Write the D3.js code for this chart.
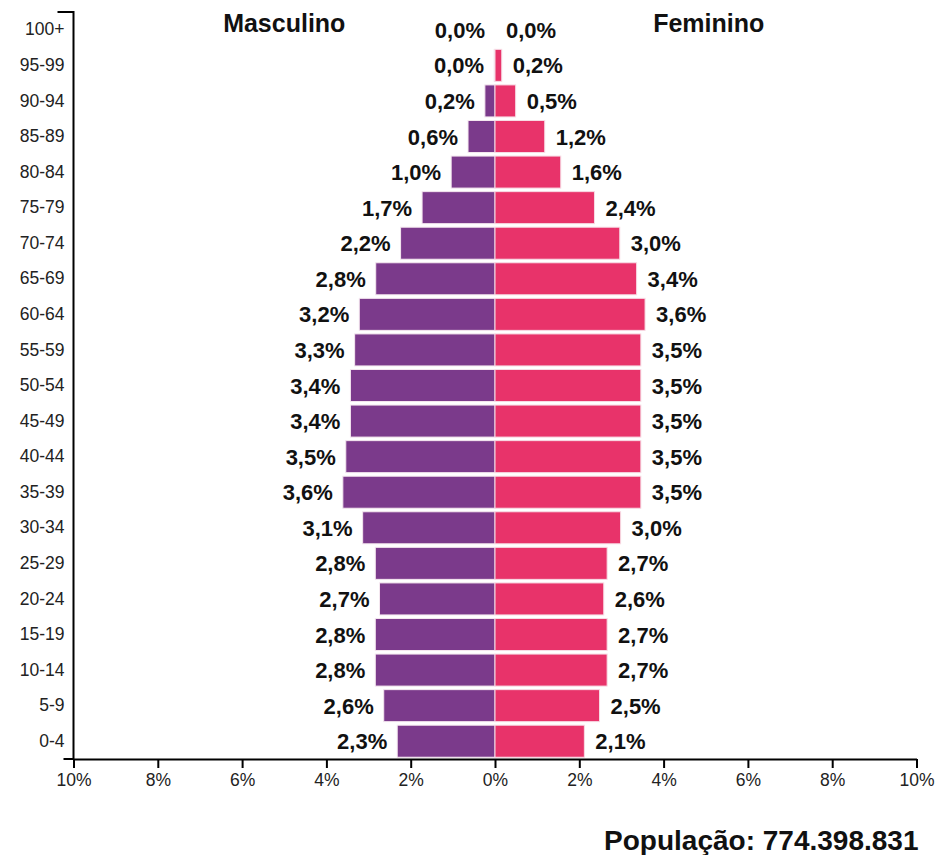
<!DOCTYPE html>
<html>
<head>
<meta charset="utf-8">
<script src="https://cdn.jsdelivr.net/npm/d3@7"></script>
<style>
  html, body { margin: 0; padding: 0; background: #fff; }
  svg { display: block; font-family: "Liberation Sans", Arial, Helvetica, sans-serif; }
</style>
</head>
<body>
<svg id="chart" width="944" height="855"></svg>
<script>
const ageGroups = ["100+","95-99","90-94","85-89","80-84","75-79","70-74","65-69","60-64","55-59","50-54","45-49","40-44","35-39","30-34","25-29","20-24","15-19","10-14","5-9","0-4"];
const maleValues   = [0.00,0.02,0.24,0.64,1.04,1.73,2.24,2.83,3.22,3.33,3.43,3.43,3.54,3.61,3.14,2.84,2.74,2.84,2.84,2.64,2.32];
const femaleValues = [0.00,0.16,0.49,1.18,1.56,2.36,2.96,3.36,3.56,3.46,3.46,3.46,3.46,3.46,2.98,2.66,2.58,2.66,2.66,2.48,2.12];
const xTicks = [-10,-8,-6,-4,-2,0,2,4,6,8,10];
const sideTitles = ["Masculino","Feminino"];
const populationText = "População: 774.398.831";

const svg = d3.select("#chart");
const x = d3.scaleLinear().domain([-10, 10]).range([73.5, 916.5]);
const y = d3.scaleBand().domain(ageGroups).range([12, 759]).paddingInner(0.1).paddingOuter(0.05);

const fmt = v => d3.format(".1f")(v).replace(".", ",") + "%";
const rows = ageGroups.map((g, i) => ({ g, m: maleValues[i], f: femaleValues[i] }));

// Bars
const bars = svg.append("g");
bars.selectAll("rect.m").data(rows).join("rect")
  .attr("x", d => x(-d.m)).attr("y", d => y(d.g))
  .attr("width", d => x(0) - x(-d.m)).attr("height", y.bandwidth())
  .attr("fill", "#7b3a8b").attr("stroke", "#f4e6ef").attr("stroke-width", 1)
  .attr("stroke-opacity", d => d.m > 0 ? 1 : 0);
bars.selectAll("rect.f").data(rows).join("rect")
  .attr("x", x(0)).attr("y", d => y(d.g))
  .attr("width", d => x(d.f) - x(0)).attr("height", y.bandwidth())
  .attr("fill", "#e8336a").attr("stroke", "#f7dbe4").attr("stroke-width", 1)
  .attr("stroke-opacity", d => d.f > 0 ? 1 : 0);

// Value labels
const lab = svg.append("g").attr("font-weight", "bold").attr("font-size", 22).attr("fill", "#111");
lab.selectAll("text.m").data(rows).join("text")
  .attr("x", d => x(-d.m) - 10).attr("y", d => y(d.g) + y.bandwidth() / 2 + 8)
  .attr("text-anchor", "end").text(d => fmt(d.m));
lab.selectAll("text.f").data(rows).join("text")
  .attr("x", d => x(d.f) + 11).attr("y", d => y(d.g) + y.bandwidth() / 2 + 8)
  .attr("text-anchor", "start").text(d => fmt(d.f));

// Y axis
const yAxis = svg.append("g").attr("transform", `translate(${x(-10)},0)`)
  .call(d3.axisLeft(y).tickSize(0).tickPadding(9));
yAxis.select(".domain")
  .attr("d", `M-16,${y.range()[0]}H0V${y.range()[1]}H-10`)
  .attr("stroke", "#000").attr("stroke-width", 2).attr("fill", "none");
yAxis.selectAll("text").attr("font-size", 17.5).attr("fill", "#222").attr("font-family", null);

// X axis
const xAxis = svg.append("g").attr("transform", `translate(0,${y.range()[1]})`)
  .call(d3.axisBottom(x).tickValues(xTicks).tickSize(9).tickSizeOuter(0).tickPadding(6)
    .tickFormat(d => Math.abs(d) + "%"));
xAxis.select(".domain").attr("stroke", "#000").attr("stroke-width", 2);
xAxis.selectAll("line").attr("stroke", "#000").attr("stroke-width", 2);
xAxis.selectAll("text").attr("font-size", 17.5).attr("fill", "#222").attr("font-family", null);

// Titles
svg.append("text").attr("x", x(-5.0)).attr("y", 32).attr("text-anchor", "middle")
  .attr("font-weight", "bold").attr("font-size", 25).attr("fill", "#111").text(sideTitles[0]);
svg.append("text").attr("x", x(5.07)).attr("y", 32).attr("text-anchor", "middle")
  .attr("font-weight", "bold").attr("font-size", 25).attr("fill", "#111").text(sideTitles[1]);

svg.append("text").attr("x", x(10) + 2).attr("y", 850).attr("text-anchor", "end")
  .attr("font-weight", "bold").attr("font-size", 28).attr("fill", "#111").text(populationText);
</script>
</body>
</html>
